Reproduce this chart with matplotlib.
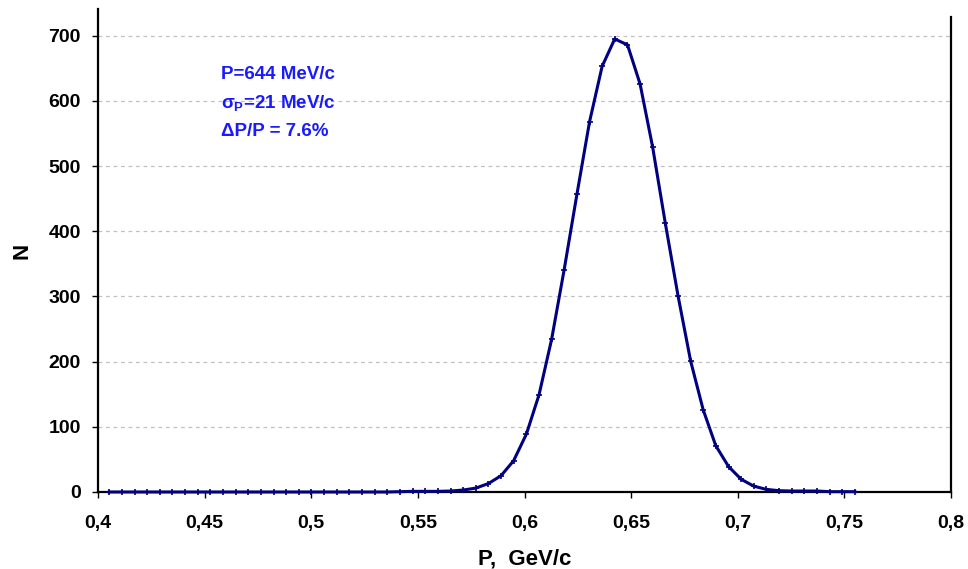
import matplotlib
matplotlib.use('Agg')
import matplotlib.pyplot as plt

# momentum bins, GeV/c
p = [0.4053, 0.4112, 0.4172, 0.4231, 0.4290, 0.4349, 0.4409, 0.4468, 0.4527, 0.4586,
     0.4646, 0.4705, 0.4764, 0.4823, 0.4883, 0.4942, 0.5001, 0.5060, 0.5120, 0.5179,
     0.5238, 0.5297, 0.5357, 0.5416, 0.5475, 0.5535, 0.5594, 0.5653, 0.5712, 0.5772,
     0.5831, 0.5890, 0.5949, 0.6009, 0.6068, 0.6127, 0.6186, 0.6246, 0.6305, 0.6364,
     0.6423, 0.6483, 0.6542, 0.6601, 0.6660, 0.6720, 0.6779, 0.6838, 0.6897, 0.6957,
     0.7016, 0.7075, 0.7134, 0.7194, 0.7253, 0.7312, 0.7371, 0.7431, 0.7490, 0.7549]
# counts
n = [0, 0, 0, 0, 0, 0, 0, 0, 0, 0,
     0, 0, 0, 0, 0, 0, 0, 0, 0, 0,
     0, 0, 0, 0.5, 1, 1, 1, 1.5, 3, 6,
     13, 25, 48, 89, 149, 234, 341, 457, 568, 653,
     695, 686, 626, 529, 413, 301, 201, 126, 71, 39,
     19.5, 9, 4, 2, 1.5, 1.5, 1.5, 0.5, 0.5, 0.5]

xticks = [0.4, 0.45, 0.5, 0.55, 0.6, 0.65, 0.7, 0.75, 0.8]
xlabels = ['0,4', '0,45', '0,5', '0,55', '0,6', '0,65', '0,7', '0,75', '0,8']
yticks = [0, 100, 200, 300, 400, 500, 600, 700]
notes = ['P=644 MeV/c', r'$\sigma_P$=21 MeV/c', 'ΔP/P = 7.6%']

plt.rcParams['font.family'] = ['Liberation Sans', 'DejaVu Sans']
plt.rcParams['font.weight'] = 'bold'
plt.rcParams['mathtext.fontset'] = 'custom'
plt.rcParams['mathtext.rm'] = 'Liberation Sans:bold'
plt.rcParams['mathtext.it'] = 'Liberation Sans:bold'
plt.rcParams['mathtext.bf'] = 'Liberation Sans:bold'

W, H = 968, 569
fig = plt.figure(figsize=(W / 100, H / 100), dpi=100)
ax = fig.add_axes([98 / W, 1 - 492 / H, (951 - 98) / W, (492 - 9) / H])

ax.plot(p, n, color='#000080', linewidth=2.2, marker='+', markersize=5,
        markeredgewidth=1.2, zorder=3, clip_on=False)

ax.set_xlim(0.4, 0.8)
ax.set_ylim(0, 741)
ax.set_xticks(xticks)
ax.set_xticklabels(xlabels)
ax.set_yticks(yticks)
ax.tick_params(axis='both', direction='out', length=4.5, width=1, labelsize=14)
ax.tick_params(axis='x', pad=12)
ax.tick_params(axis='y', pad=8)

ax.yaxis.grid(True, linestyle=(0, (3, 3)), color='#c0c0c0', linewidth=0.9)
ax.set_axisbelow(True)

ax.spines['top'].set_visible(False)
ax.spines['right'].set_bounds(0, 729)
for s in ['left', 'bottom', 'right']:
    ax.spines[s].set_linewidth(1.6)

ax.set_xlabel('P,  GeV/c', fontsize=16, fontweight='bold', labelpad=12)
ax.set_ylabel('N', fontsize=16, fontweight='bold', labelpad=11)

# annotation lines, baselines in pixels from top
for txt, yb in zip(notes, [79, 108, 136]):
    fig.text(221 / W, 1 - yb / H, txt, color='#1a1aff', fontsize=13.5,
             fontweight='bold', va='baseline')

plt.savefig('out.png', dpi=100)
